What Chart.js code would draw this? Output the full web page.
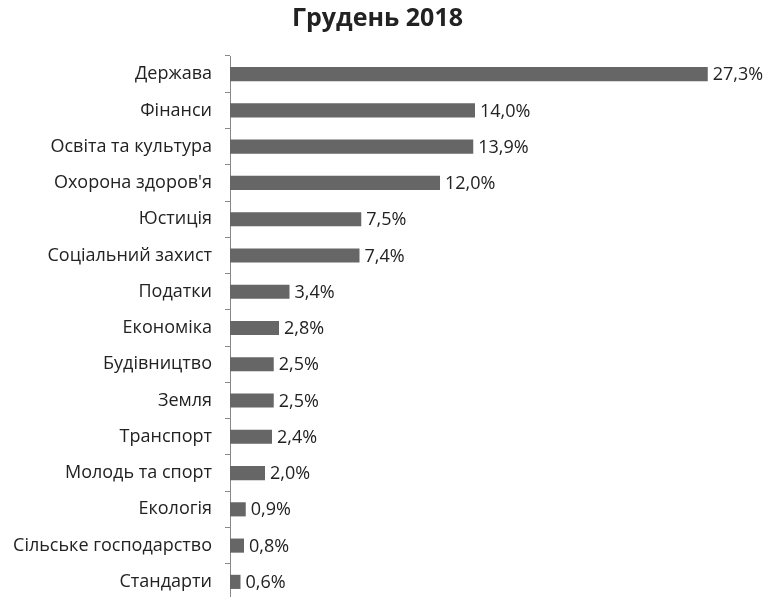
<!DOCTYPE html>
<html>
<head>
<meta charset="utf-8">
<script src="https://cdn.jsdelivr.net/npm/chart.js@4/dist/chart.umd.min.js"></script>
<style>
  body { margin: 0; background: #fff; overflow: hidden; }
  canvas { display: block; }
</style>
</head>
<body>
<canvas id="chart" width="770" height="600"></canvas>
<script>
var categories = ["Держава", "Фінанси", "Освіта та культура", "Охорона здоров'я", "Юстиція",
  "Соціальний захист", "Податки", "Економіка", "Будівництво", "Земля", "Транспорт",
  "Молодь та спорт", "Екологія", "Сільське господарство", "Стандарти"];
var values = [27.3, 14.0, 13.9, 12.0, 7.5, 7.4, 3.4, 2.8, 2.5, 2.5, 2.4, 2.0, 0.9, 0.8, 0.6];
var titleText = "Грудень 2018";

var fontFamily = "'Open Sans', 'DejaVu Sans', sans-serif";

// draw the percentage after each bar
var valueLabels = {
  id: "valueLabels",
  afterDatasetsDraw: function (chart) {
    var ctx = chart.ctx;
    var meta = chart.getDatasetMeta(0);
    ctx.save();
    ctx.font = "18px " + fontFamily;
    ctx.fillStyle = "#222";
    ctx.textAlign = "left";
    ctx.textBaseline = "middle";
    meta.data.forEach(function (bar, i) {
      var txt = values[i].toFixed(1).replace(".", ",") + "%";
      ctx.fillText(txt, bar.x + 5, bar.y + 1);
    });
    ctx.restore();
  }
};

var chart = new Chart(document.getElementById("chart").getContext("2d"), {
  type: "bar",
  data: {
    labels: categories,
    datasets: [{
      data: values,
      backgroundColor: "#666666",
      borderWidth: 0,
      barPercentage: 0.78,
      categoryPercentage: 0.5
    }]
  },
  plugins: [valueLabels],
  options: {
    indexAxis: "y",
    responsive: false,
    animation: false,
    layout: { padding: { left: 0, right: 15, top: 0, bottom: 0 } },
    plugins: {
      legend: { display: false },
      tooltip: { enabled: false },
      title: {
        display: true,
        text: titleText,
        color: "#222",
        font: { family: fontFamily, size: 25, weight: "bold" },
        padding: { top: 4, bottom: 22 }
      }
    },
    scales: {
      x: {
        display: false,
        min: 0,
        max: 30
      },
      y: {
        afterFit: function (scale) {
          scale.width = 230;
          // no extra room for half labels at the ends
          scale.paddingTop = 0;
          scale.paddingBottom = 0;
        },
        grid: {
          offset: true,
          drawOnChartArea: false,
          tickLength: 5,
          color: "#888"
        },
        border: { color: "#888", width: 1 },
        ticks: {
          color: "#222",
          padding: 13,
          font: { family: fontFamily, size: 18 }
        }
      }
    }
  }
});
</script>
</body>
</html>
